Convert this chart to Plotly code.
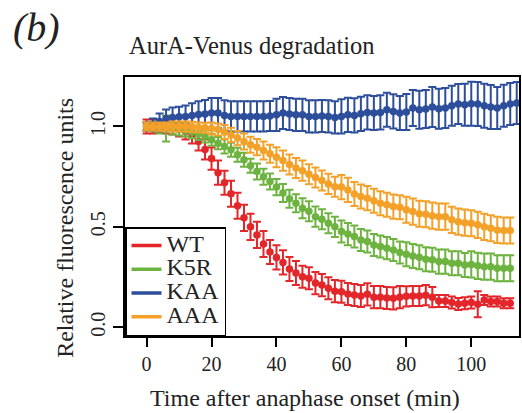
import plotly.graph_objects as go

# ---------------- data ----------------
time = [0, 2, 4, 6, 8, 10, 12, 14, 16, 18,
        20, 22, 24, 26, 28, 30, 32, 34, 36, 38,
        40, 42, 44, 46, 48, 50, 52, 54, 56, 58,
        60, 62, 64, 66, 68, 70, 72, 74, 76, 78,
        80, 82, 84, 86, 88, 90, 92, 94, 96, 98,
        100, 102, 104, 106, 108, 110, 112]
time_kaa = time + [114]

wt = [1.0, 1.0, 1.0, 0.995, 0.99, 0.985, 0.975, 0.955, 0.925, 0.885,
      0.84, 0.77, 0.72, 0.665, 0.605, 0.545, 0.50, 0.46, 0.415, 0.375,
      0.348, 0.323, 0.29, 0.27, 0.252, 0.244, 0.22, 0.21, 0.194, 0.18,
      0.177, 0.166, 0.161, 0.156, 0.164, 0.15, 0.15, 0.146, 0.144, 0.15,
      0.154, 0.156, 0.156, 0.16, 0.15, 0.131, 0.131, 0.123, 0.116, 0.12,
      0.123, 0.115, 0.136, 0.128, 0.128, 0.12, 0.12]
wt_err = [0.035, 0.035, 0.03, 0.03, 0.03, 0.035, 0.04, 0.04, 0.045, 0.05,
          0.055, 0.06, 0.06, 0.065, 0.065, 0.065, 0.065, 0.065, 0.065, 0.06,
          0.06, 0.06, 0.06, 0.06, 0.055, 0.055, 0.055, 0.055, 0.055, 0.055,
          0.055, 0.055, 0.055, 0.055, 0.055, 0.055, 0.055, 0.055, 0.055, 0.055,
          0.05, 0.05, 0.05, 0.05, 0.05, 0.03, 0.03, 0.03, 0.03, 0.03,
          0.03, 0.065, 0.025, 0.025, 0.025, 0.025, 0.025]

k5r = [1.0, 1.0, 0.995, 0.99, 0.99, 0.985, 0.98, 0.972, 0.962, 0.95,
       0.934, 0.917, 0.90, 0.884, 0.859, 0.834, 0.804, 0.776, 0.75, 0.726,
       0.698, 0.669, 0.64, 0.618, 0.593, 0.578, 0.551, 0.538, 0.518, 0.50,
       0.477, 0.464, 0.452, 0.435, 0.427, 0.41, 0.402, 0.394, 0.385, 0.372,
       0.364, 0.355, 0.349, 0.339, 0.336, 0.327, 0.327, 0.319, 0.319, 0.31,
       0.313, 0.306, 0.302, 0.302, 0.294, 0.294, 0.294]
k5r_err = [0.02, 0.025, 0.03, 0.065, 0.03, 0.03, 0.03, 0.03, 0.03, 0.03,
           0.03, 0.03, 0.035, 0.035, 0.035, 0.035, 0.035, 0.04, 0.04, 0.04,
           0.04, 0.045, 0.045, 0.045, 0.05, 0.05, 0.05, 0.05, 0.05, 0.05,
           0.055, 0.055, 0.055, 0.055, 0.055, 0.055, 0.055, 0.055, 0.055, 0.055,
           0.06, 0.06, 0.06, 0.06, 0.06, 0.06, 0.06, 0.06, 0.06, 0.06,
           0.065, 0.065, 0.065, 0.065, 0.065, 0.065, 0.065]

kaa = [1.0, 1.01, 1.025, 1.04, 1.045, 1.048, 1.05, 1.055, 1.06, 1.062,
       1.067, 1.067, 1.055, 1.05, 1.05, 1.05, 1.05, 1.05, 1.05, 1.052,
       1.058, 1.067, 1.062, 1.058, 1.058, 1.05, 1.05, 1.052, 1.05, 1.045,
       1.05, 1.058, 1.055, 1.063, 1.07, 1.067, 1.07, 1.083, 1.075, 1.067,
       1.072, 1.092, 1.083, 1.087, 1.097, 1.088, 1.092, 1.103, 1.112, 1.108,
       1.113, 1.112, 1.103, 1.097, 1.092, 1.103, 1.112, 1.117]
kaa_err = [0.02, 0.03, 0.04, 0.045, 0.05, 0.05, 0.055, 0.06, 0.065, 0.07,
           0.075, 0.075, 0.075, 0.075, 0.075, 0.075, 0.075, 0.075, 0.075, 0.075,
           0.08, 0.08, 0.08, 0.08, 0.08, 0.08, 0.08, 0.08, 0.08, 0.08,
           0.085, 0.085, 0.085, 0.085, 0.085, 0.085, 0.085, 0.085, 0.085, 0.085,
           0.09, 0.09, 0.095, 0.095, 0.1, 0.1, 0.1, 0.1, 0.1, 0.105,
           0.11, 0.11, 0.11, 0.11, 0.105, 0.105, 0.105, 0.105]

aaa = [1.0, 1.0, 1.0, 1.0, 1.0, 1.0, 1.0, 0.998, 0.995, 0.993,
       0.99, 0.985, 0.972, 0.958, 0.942, 0.925, 0.909, 0.897, 0.88, 0.864,
       0.847, 0.83, 0.811, 0.793, 0.78, 0.762, 0.746, 0.731, 0.714, 0.70,
       0.698, 0.684, 0.664, 0.651, 0.643, 0.63, 0.618, 0.61, 0.601, 0.598,
       0.585, 0.576, 0.565, 0.563, 0.556, 0.551, 0.551, 0.535, 0.526, 0.521,
       0.518, 0.51, 0.50, 0.493, 0.485, 0.482, 0.482]
aaa_err = [0.02, 0.02, 0.02, 0.02, 0.025, 0.025, 0.025, 0.025, 0.025, 0.025,
           0.03, 0.03, 0.035, 0.035, 0.035, 0.04, 0.04, 0.04, 0.045, 0.045,
           0.05, 0.05, 0.05, 0.05, 0.05, 0.05, 0.05, 0.05, 0.05, 0.05,
           0.06, 0.06, 0.06, 0.06, 0.06, 0.06, 0.06, 0.06, 0.06, 0.06,
           0.065, 0.065, 0.065, 0.065, 0.065, 0.065, 0.065, 0.065, 0.065, 0.065,
           0.065, 0.065, 0.065, 0.065, 0.065, 0.065, 0.065]

names = ["WT", "K5R", "KAA", "AAA"]
colors = ["#E3262A", "#6DB33F", "#2C4E9B", "#F4A12A"]
x_ticks = [0, 20, 40, 60, 80, 100]
y_ticks = [0.0, 0.5, 1.0]
y_ticktext = ["0.0", "0.5", "1.0"]

series = [(time, wt, wt_err), (time, k5r, k5r_err), (time_kaa, kaa, kaa_err), (time, aaa, aaa_err)]

# ---------------- layout geometry ----------------
W, H = 522, 413
ML, MR, MT, MB = 125, 1, 77, 77
PW, PH = W - ML - MR, H - MT - MB
FONT = "Liberation Serif"
TXT = "#222222"


def px_x(px):
    return (px - ML) / PW


def px_y(py):
    return (H - MB - py) / PH


fig = go.Figure()
for (tx, vals, errs), name, col in zip(series, names, colors):
    fig.add_trace(go.Scatter(
        x=tx, y=vals, mode="markers", showlegend=False, name=name,
        marker=dict(color=col, size=7.5, line=dict(width=0)),
        error_y=dict(type="data", array=errs, visible=True, color=col,
                     thickness=2, width=4),
    ))
for name, col in zip(names, colors):
    fig.add_trace(go.Scatter(
        x=[None], y=[None], mode="lines",
        name='<span style="font-size:24px">%s</span>' % name,
        line=dict(color=col, width=3.5), showlegend=True,
    ))

fig.update_layout(
    width=W, height=H,
    margin=dict(l=ML, r=MR, t=MT, b=MB, pad=0),
    paper_bgcolor="white", plot_bgcolor="white",
    font=dict(family=FONT, color=TXT, size=20),
    showlegend=True,
    legend=dict(x=0, y=0, xanchor="left", yanchor="bottom",
                bgcolor="white", bordercolor="black", borderwidth=1.5,
                font=dict(family=FONT, size=16, color=TXT),
                itemwidth=30, tracegroupgap=0),
    xaxis=dict(range=[-6.65, 114.7], tickvals=x_ticks, ticks="outside",
               ticklen=9, tickwidth=1.5, tickcolor="black",
               showline=True, linecolor="black", linewidth=1.5, mirror=True,
               showgrid=False, zeroline=False,
               tickfont=dict(family=FONT, size=20, color=TXT)),
    yaxis=dict(range=[-0.0434, 1.2463], tickvals=y_ticks, ticktext=y_ticktext,
               ticks="outside", ticklen=10, tickwidth=1.5, tickcolor="black",
               tickangle=-90,
               showline=True, linecolor="black", linewidth=1.5, mirror=True,
               showgrid=False, zeroline=False,
               tickfont=dict(family=FONT, size=20, color=TXT)),
    annotations=[
        dict(text="<i>(b)</i>", x=px_x(10), y=px_y(28), xref="paper", yref="paper",
             xanchor="left", yanchor="middle", showarrow=False,
             font=dict(family=FONT, size=40, color=TXT)),
        dict(text="AurA-Venus degradation", x=px_x(127), y=px_y(45), xref="paper", yref="paper",
             xanchor="left", yanchor="middle", showarrow=False,
             font=dict(family=FONT, size=24.5, color=TXT)),
        dict(text="Time after anaphase onset (min)", x=px_x(306), y=px_y(398),
             xref="paper", yref="paper", xanchor="center", yanchor="middle", showarrow=False,
             font=dict(family=FONT, size=24, color=TXT)),
        dict(text="Relative fluorescence units", x=px_x(64), y=px_y(227.5), textangle=-90,
             xref="paper", yref="paper", xanchor="center", yanchor="middle", showarrow=False,
             font=dict(family=FONT, size=24, color=TXT)),
    ],
)

fig.write_html("out.html")
